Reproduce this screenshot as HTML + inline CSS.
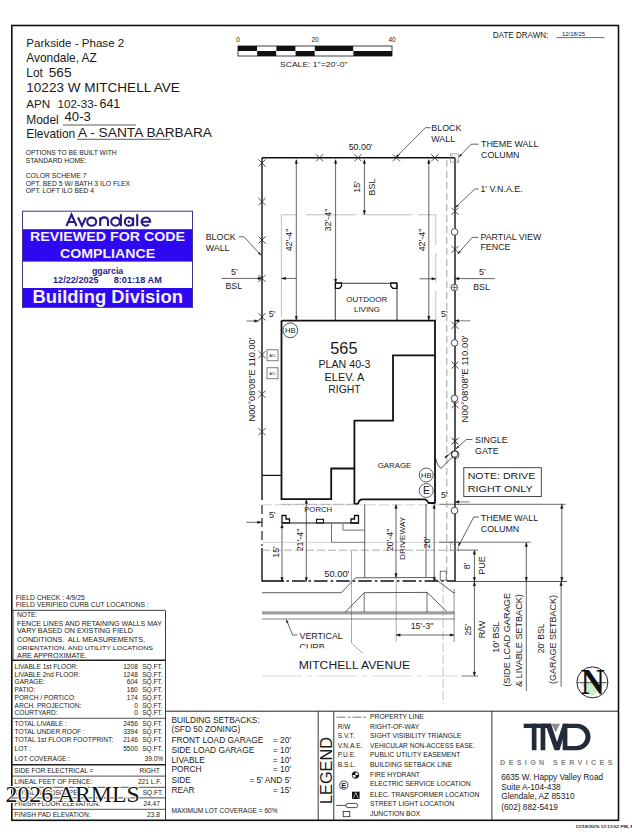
<!DOCTYPE html>
<html><head><meta charset="utf-8"><style>
html,body{margin:0;padding:0;background:#fff;}
body{width:632px;height:832px;overflow:hidden;}
svg{display:block;font-family:"Liberation Sans",sans-serif;}
</style></head><body>
<svg width="632" height="832" viewBox="0 0 632 832">
<rect x="11.8" y="25.5" width="606.7" height="794.8" stroke="#111" stroke-width="1.6" fill="none"/>
<text x="26.3" y="47.2" font-size="11.8" textLength="98" lengthAdjust="spacingAndGlyphs" fill="#1a1a1a">Parkside - Phase 2</text>
<text x="26.3" y="62.3" font-size="11.9" fill="#1a1a1a">Avondale, AZ</text>
<text x="26.3" y="77.1" font-size="11.9" fill="#1a1a1a">Lot</text>
<text x="48.8" y="77.1" font-size="13.6" fill="#1a1a1a">565</text>
<text x="26.3" y="92.2" font-size="13.4" textLength="153.5" lengthAdjust="spacingAndGlyphs" fill="#1a1a1a">10223 W MITCHELL AVE</text>
<text x="26.3" y="107.5" font-size="11.6" fill="#1a1a1a">APN</text>
<text x="57.5" y="107.5" font-size="11.6" fill="#1a1a1a">102-33-</text>
<text x="99.5" y="107.5" font-size="12.4" fill="#1a1a1a">641</text>
<text x="26.3" y="124.1" font-size="11.9" fill="#1a1a1a">Model</text>
<text x="64.5" y="121.3" font-size="13.2" fill="#1a1a1a">40-3</text>
<line x1="63" y1="125" x2="136" y2="125" stroke="#333" stroke-width="0.8"/>
<text x="26.3" y="138.4" font-size="11.9" fill="#1a1a1a">Elevation</text>
<text x="78" y="136.6" font-size="13.2" textLength="134" lengthAdjust="spacingAndGlyphs" fill="#1a1a1a">A - SANTA BARBARA</text>
<line x1="77" y1="139.3" x2="170" y2="139.3" stroke="#333" stroke-width="0.8"/>
<text x="25.7" y="154.9" font-size="6.4" textLength="91" lengthAdjust="spacingAndGlyphs" fill="#1a1a1a">OPTIONS TO BE BUILT WITH</text>
<text x="25.7" y="162.5" font-size="6.4" textLength="60.8" lengthAdjust="spacingAndGlyphs" fill="#1a1a1a">STANDARD HOME:</text>
<text x="25.7" y="177.7" font-size="6.4" textLength="60.8" lengthAdjust="spacingAndGlyphs" fill="#1a1a1a">COLOR SCHEME 7</text>
<text x="25.7" y="185.8" font-size="6.4" textLength="104.4" lengthAdjust="spacingAndGlyphs" fill="#1a1a1a">OPT. BED 5 W/ BATH 3 ILO FLEX</text>
<text x="25.7" y="193.4" font-size="6.4" textLength="68.3" lengthAdjust="spacingAndGlyphs" fill="#1a1a1a">OPT. LOFT ILO BED 4</text>
<rect x="238" y="46" width="19.19999999999999" height="5" fill="#111"/>
<rect x="238" y="51" width="19.19999999999999" height="5" fill="#fff"/>
<rect x="257.2" y="46" width="19.19999999999999" height="5" fill="#fff"/>
<rect x="257.2" y="51" width="19.19999999999999" height="5" fill="#111"/>
<rect x="276.4" y="46" width="19.200000000000045" height="5" fill="#111"/>
<rect x="276.4" y="51" width="19.200000000000045" height="5" fill="#fff"/>
<rect x="295.6" y="46" width="19.19999999999999" height="5" fill="#fff"/>
<rect x="295.6" y="51" width="19.19999999999999" height="5" fill="#111"/>
<rect x="314.8" y="46" width="38.599999999999966" height="5" fill="#111"/>
<rect x="314.8" y="51" width="38.599999999999966" height="5" fill="#fff"/>
<rect x="353.4" y="46" width="38.60000000000002" height="5" fill="#fff"/>
<rect x="353.4" y="51" width="38.60000000000002" height="5" fill="#111"/>
<rect x="238" y="46" width="154" height="10" stroke="#111" stroke-width="0.8" fill="none"/>
<text x="238" y="42" font-size="6.5" text-anchor="middle" fill="#1a1a1a">0</text>
<text x="315" y="42" font-size="6.5" text-anchor="middle" fill="#1a1a1a">20</text>
<text x="392" y="42" font-size="6.5" text-anchor="middle" fill="#1a1a1a">40</text>
<text x="280" y="67" font-size="6.8" textLength="67.5" lengthAdjust="spacingAndGlyphs" fill="#1a1a1a">SCALE:  1"=20'-0"</text>
<text x="492.8" y="38" font-size="8.4" textLength="55.5" lengthAdjust="spacingAndGlyphs" fill="#1a1a1a">DATE DRAWN:</text>
<text x="562" y="36" font-size="5.8" textLength="23" lengthAdjust="spacingAndGlyphs" fill="#1a1a1a">12/18/25</text>
<line x1="556.5" y1="37.6" x2="604.5" y2="37.6" stroke="#333" stroke-width="0.7"/>
<rect x="22.5" y="211.2" width="170" height="96.2" fill="#fff" stroke="#3d3585" stroke-width="1"/>
<rect x="23" y="229.2" width="169" height="32.4" fill="#2e08f0"/>
<rect x="23" y="288" width="169" height="19" fill="#2e08f0"/>
<g fill="none" stroke="#2b1a86" stroke-width="2.1" stroke-linecap="butt">
<path d="M66.4,226 L71.5,214.6 L76.6,226 M68.4,222 L74.6,222"/>
<path d="M78.1,217.5 L81.95,225.8 L85.8,217.5"/>
<ellipse cx="91.7" cy="221.7" rx="4.5" ry="4.1"/>
<path d="M100.2,226.1 V217.4 M100.2,221.3 Q100.6,217.4 104.2,217.4 Q108,217.4 108,221.3 V226.1"/>
<ellipse cx="115.5" cy="221.7" rx="4.3" ry="4.1"/>
<path d="M120.9,214.2 V226.1"/>
<ellipse cx="128.9" cy="221.7" rx="4.1" ry="4.1"/>
<path d="M133.1,217.4 V226.1"/>
<path d="M137.2,214.2 V226.1"/>
<path d="M141.7,221.7 H150.2 A4.3,4.1 0 1 0 148.9,224.6"/>
</g>
<circle cx="128.9" cy="221.7" r="1.3" fill="#2b1a86"/>
<text x="107.6" y="241.2" font-size="13.4" text-anchor="middle" font-weight="bold" textLength="155" lengthAdjust="spacingAndGlyphs" fill="#f4f0ff">REVIEWED FOR CODE</text>
<text x="107.6" y="258.2" font-size="13.4" text-anchor="middle" font-weight="bold" textLength="95" lengthAdjust="spacingAndGlyphs" fill="#f4f0ff">COMPLIANCE</text>
<text x="107.6" y="273.5" font-size="8.8" text-anchor="middle" font-weight="bold" fill="#2b1e8a">ggarcia</text>
<text x="53" y="283.3" font-size="9" font-weight="bold" textLength="45.7" lengthAdjust="spacingAndGlyphs" fill="#2b1e8a">12/22/2025</text>
<text x="113.7" y="283.3" font-size="9" font-weight="bold" textLength="48.1" lengthAdjust="spacingAndGlyphs" fill="#2b1e8a">8:01:18 AM</text>
<text x="107.7" y="303.1" font-size="18.5" text-anchor="middle" font-weight="bold" textLength="150.4" lengthAdjust="spacingAndGlyphs" fill="#f4f0ff">Building Division</text>
<line x1="262" y1="157.8" x2="455" y2="157.8" stroke="#111" stroke-width="1.4"/>
<line x1="262" y1="157.8" x2="262" y2="500" stroke="#111" stroke-width="1.4"/>
<line x1="262" y1="505" x2="262" y2="546" stroke="#222" stroke-width="1.2" stroke-dasharray="9,4"/>
<line x1="262" y1="548" x2="262" y2="581.5" stroke="#111" stroke-width="1.4"/>
<line x1="455" y1="157.8" x2="455" y2="581.5" stroke="#111" stroke-width="1.4"/>
<line x1="446.8" y1="160" x2="446.8" y2="581.3" stroke="#8a8a8a" stroke-width="0.8" stroke-dasharray="7,4"/>
<line x1="262" y1="581" x2="284.1" y2="581" stroke="#111" stroke-width="1.6"/>
<line x1="286.5" y1="581" x2="455" y2="581" stroke="#111" stroke-width="1.6" stroke-dasharray="2.4,3.1,13.5,3.1"/>
<line x1="316.0" y1="154.20000000000002" x2="323.20000000000005" y2="161.4" stroke="#2a2a2a" stroke-width="0.8"/>
<line x1="316.0" y1="161.4" x2="323.20000000000005" y2="154.20000000000002" stroke="#2a2a2a" stroke-width="0.8"/>
<line x1="354.4" y1="154.20000000000002" x2="361.6" y2="161.4" stroke="#2a2a2a" stroke-width="0.8"/>
<line x1="354.4" y1="161.4" x2="361.6" y2="154.20000000000002" stroke="#2a2a2a" stroke-width="0.8"/>
<line x1="392.7" y1="154.20000000000002" x2="399.90000000000003" y2="161.4" stroke="#2a2a2a" stroke-width="0.8"/>
<line x1="392.7" y1="161.4" x2="399.90000000000003" y2="154.20000000000002" stroke="#2a2a2a" stroke-width="0.8"/>
<line x1="431.2" y1="154.20000000000002" x2="438.40000000000003" y2="161.4" stroke="#2a2a2a" stroke-width="0.8"/>
<line x1="431.2" y1="161.4" x2="438.40000000000003" y2="154.20000000000002" stroke="#2a2a2a" stroke-width="0.8"/>
<line x1="258.4" y1="159.4" x2="265.6" y2="166.6" stroke="#2a2a2a" stroke-width="0.8"/>
<line x1="258.4" y1="166.6" x2="265.6" y2="159.4" stroke="#2a2a2a" stroke-width="0.8"/>
<line x1="258.4" y1="198.0" x2="265.6" y2="205.2" stroke="#2a2a2a" stroke-width="0.8"/>
<line x1="258.4" y1="205.2" x2="265.6" y2="198.0" stroke="#2a2a2a" stroke-width="0.8"/>
<line x1="258.4" y1="236.4" x2="265.6" y2="243.6" stroke="#2a2a2a" stroke-width="0.8"/>
<line x1="258.4" y1="243.6" x2="265.6" y2="236.4" stroke="#2a2a2a" stroke-width="0.8"/>
<line x1="258.4" y1="274.79999999999995" x2="265.6" y2="282.0" stroke="#2a2a2a" stroke-width="0.8"/>
<line x1="258.4" y1="282.0" x2="265.6" y2="274.79999999999995" stroke="#2a2a2a" stroke-width="0.8"/>
<line x1="258.4" y1="313.2" x2="265.6" y2="320.40000000000003" stroke="#2a2a2a" stroke-width="0.8"/>
<line x1="258.4" y1="320.40000000000003" x2="265.6" y2="313.2" stroke="#2a2a2a" stroke-width="0.8"/>
<line x1="258.4" y1="351.0" x2="265.6" y2="358.20000000000005" stroke="#2a2a2a" stroke-width="0.8"/>
<line x1="258.4" y1="358.20000000000005" x2="265.6" y2="351.0" stroke="#2a2a2a" stroke-width="0.8"/>
<line x1="258.4" y1="390.59999999999997" x2="265.6" y2="397.8" stroke="#2a2a2a" stroke-width="0.8"/>
<line x1="258.4" y1="397.8" x2="265.6" y2="390.59999999999997" stroke="#2a2a2a" stroke-width="0.8"/>
<line x1="258.4" y1="428.09999999999997" x2="265.6" y2="435.3" stroke="#2a2a2a" stroke-width="0.8"/>
<line x1="258.4" y1="435.3" x2="265.6" y2="428.09999999999997" stroke="#2a2a2a" stroke-width="0.8"/>
<line x1="451.4" y1="207.70000000000002" x2="458.6" y2="214.9" stroke="#2a2a2a" stroke-width="0.8"/>
<line x1="451.4" y1="214.9" x2="458.6" y2="207.70000000000002" stroke="#2a2a2a" stroke-width="0.8"/>
<line x1="451.4" y1="245.8" x2="458.6" y2="253.0" stroke="#2a2a2a" stroke-width="0.8"/>
<line x1="451.4" y1="253.0" x2="458.6" y2="245.8" stroke="#2a2a2a" stroke-width="0.8"/>
<line x1="451.4" y1="321.7" x2="458.6" y2="328.90000000000003" stroke="#2a2a2a" stroke-width="0.8"/>
<line x1="451.4" y1="328.90000000000003" x2="458.6" y2="321.7" stroke="#2a2a2a" stroke-width="0.8"/>
<line x1="451.4" y1="361.5" x2="458.6" y2="368.70000000000005" stroke="#2a2a2a" stroke-width="0.8"/>
<line x1="451.4" y1="368.70000000000005" x2="458.6" y2="361.5" stroke="#2a2a2a" stroke-width="0.8"/>
<line x1="451.4" y1="401.09999999999997" x2="458.6" y2="408.3" stroke="#2a2a2a" stroke-width="0.8"/>
<line x1="451.4" y1="408.3" x2="458.6" y2="401.09999999999997" stroke="#2a2a2a" stroke-width="0.8"/>
<line x1="451.4" y1="437.59999999999997" x2="458.6" y2="444.8" stroke="#2a2a2a" stroke-width="0.8"/>
<line x1="451.4" y1="444.8" x2="458.6" y2="437.59999999999997" stroke="#2a2a2a" stroke-width="0.8"/>
<circle cx="454.5" cy="231.9" r="3.3" stroke="#222" stroke-width="0.8" fill="#fff"/>
<circle cx="454.5" cy="342.9" r="3.3" stroke="#222" stroke-width="0.8" fill="#fff"/>
<circle cx="454.5" cy="398.4" r="3.3" stroke="#222" stroke-width="0.8" fill="#fff"/>
<circle cx="454.5" cy="453.9" r="3.3" stroke="#222" stroke-width="0.8" fill="#fff"/>
<circle cx="454.5" cy="510.6" r="3.3" stroke="#222" stroke-width="0.8" fill="#fff"/>
<circle cx="454.3" cy="287.4" r="3.3" stroke="#222" stroke-width="0.8" fill="#fff"/>
<line x1="451.5" y1="287.4" x2="457" y2="287.4" stroke="#222" stroke-width="0.6"/>
<line x1="454.3" y1="284.7" x2="454.3" y2="290" stroke="#222" stroke-width="0.6"/>
<rect x="450.4" y="153.9" width="8.3" height="8.2" stroke="#8a8a8a" stroke-width="0.7" fill="none"/>
<line x1="450.4" y1="153.9" x2="458.7" y2="162.1" stroke="#8a8a8a" stroke-width="0.5"/>
<rect x="450.7" y="542.2" width="8" height="8" stroke="#8a8a8a" stroke-width="0.7" fill="none"/>
<line x1="450.7" y1="542.2" x2="458.7" y2="550.2" stroke="#8a8a8a" stroke-width="0.5"/>
<line x1="281.6" y1="214.8" x2="296" y2="214.8" stroke="#b0b0b0" stroke-width="0.8"/>
<line x1="306" y1="214.8" x2="435.8" y2="214.8" stroke="#b0b0b0" stroke-width="0.8" stroke-dasharray="50,6"/>
<line x1="435.8" y1="214.8" x2="435.8" y2="320" stroke="#b0b0b0" stroke-width="0.8" stroke-dasharray="30,8"/>
<line x1="281.4" y1="214.8" x2="281.4" y2="317" stroke="#b0b0b0" stroke-width="0.8"/>
<line x1="296.3" y1="160" x2="296.3" y2="320" stroke="#222" stroke-width="0.7"/>
<polygon points="296.3,159.5 295.0,163.5 297.6,163.5" stroke="#111" stroke-width="0.3" fill="#111"/>
<polygon points="296.3,320.3 295.0,316.3 297.6,316.3" stroke="#111" stroke-width="0.3" fill="#111"/>
<line x1="335.6" y1="160" x2="335.6" y2="283" stroke="#222" stroke-width="0.7"/>
<polygon points="335.6,159.5 334.3,163.5 336.90000000000003,163.5" stroke="#111" stroke-width="0.3" fill="#111"/>
<polygon points="335.6,283 334.3,279 336.90000000000003,279" stroke="#111" stroke-width="0.3" fill="#111"/>
<line x1="364.4" y1="160" x2="364.4" y2="214.5" stroke="#222" stroke-width="0.7"/>
<polygon points="364.4,159.5 363.09999999999997,163.5 365.7,163.5" stroke="#111" stroke-width="0.3" fill="#111"/>
<polygon points="364.4,214.5 363.09999999999997,210.5 365.7,210.5" stroke="#111" stroke-width="0.3" fill="#111"/>
<line x1="428.8" y1="160" x2="428.8" y2="320" stroke="#222" stroke-width="0.7"/>
<polygon points="428.8,159.5 427.5,163.5 430.1,163.5" stroke="#111" stroke-width="0.3" fill="#111"/>
<polygon points="428.8,320.3 427.5,316.3 430.1,316.3" stroke="#111" stroke-width="0.3" fill="#111"/>
<text x="291.5" y="240" font-size="8.9" text-anchor="middle" transform="rotate(-90 291.5 240)" fill="#1a1a1a">42'-4"</text>
<text x="331" y="220" font-size="8.9" text-anchor="middle" transform="rotate(-90 331 220)" fill="#1a1a1a">32'-4"</text>
<text x="360" y="187" font-size="8.9" text-anchor="middle" transform="rotate(-90 360 187)" fill="#1a1a1a">15'</text>
<text x="375" y="187" font-size="8.9" text-anchor="middle" transform="rotate(-90 375 187)" fill="#1a1a1a">BSL</text>
<text x="424.5" y="240" font-size="8.9" text-anchor="middle" transform="rotate(-90 424.5 240)" fill="#1a1a1a">42'-4"</text>
<text x="360.6" y="150.2" font-size="8.9" text-anchor="middle" fill="#1a1a1a">50.00'</text>
<polyline points="395.6,157.6 425.4,127.7 430.5,127.7" stroke="#222" stroke-width="0.7" fill="none"/>
<polygon points="395.6,157.6 397.22148714475026,154.69814207111895 398.4964095425656,155.96880051442653" stroke="#222" stroke-width="0.3" fill="#222"/>
<text x="431.3" y="130.8" font-size="8.9" fill="#1a1a1a">BLOCK</text>
<text x="431.3" y="141.6" font-size="8.9" fill="#1a1a1a">WALL</text>
<polyline points="459,157 471,144.2 478.5,144.2" stroke="#222" stroke-width="0.7" fill="none"/>
<polygon points="459,157 460.53202812869415,154.04993393075853 461.8451950961463,155.28102796274493" stroke="#222" stroke-width="0.3" fill="#222"/>
<text x="481" y="147.2" font-size="8.9" fill="#1a1a1a">THEME WALL</text>
<text x="481" y="158" font-size="8.9" fill="#1a1a1a">COLUMN</text>
<polyline points="455.5,207.5 474.8,189 478.5,189" stroke="#222" stroke-width="0.7" fill="none"/>
<polygon points="455.5,207.5 457.1873251630593,204.63592357048438 458.4329010426841,205.9353621908497" stroke="#222" stroke-width="0.3" fill="#222"/>
<text x="480.4" y="192" font-size="8.9" fill="#1a1a1a">1' V.N.A.E.</text>
<polyline points="457.8,253.9 472.2,237.4 478.3,237.4" stroke="#222" stroke-width="0.7" fill="none"/>
<polygon points="457.8,253.9 459.2260273972603,250.89726027397262 460.582191780822,252.08082191780824" stroke="#222" stroke-width="0.3" fill="#222"/>
<text x="480.4" y="240.1" font-size="8.9" fill="#1a1a1a">PARTIAL VIEW</text>
<text x="480.4" y="250.4" font-size="8.9" fill="#1a1a1a">FENCE</text>
<polyline points="261,255.2 244,236.8 238.6,236.8" stroke="#222" stroke-width="0.7" fill="none"/>
<polygon points="261,255.2 258.1673952462678,253.46035914363517 259.4894903624404,252.23885822108434" stroke="#222" stroke-width="0.3" fill="#222"/>
<text x="205.7" y="239.9" font-size="8.9" fill="#1a1a1a">BLOCK</text>
<text x="205.7" y="251" font-size="8.9" fill="#1a1a1a">WALL</text>
<line x1="221.6" y1="278.4" x2="262" y2="278.4" stroke="#222" stroke-width="0.7"/>
<polygon points="262,278.4 258,277.09999999999997 258,279.7" stroke="#111" stroke-width="0.3" fill="#111"/>
<text x="234.3" y="274.6" font-size="8.9" text-anchor="middle" fill="#1a1a1a">5'</text>
<text x="225.4" y="289" font-size="8.9" fill="#1a1a1a">BSL</text>
<line x1="281.6" y1="278.4" x2="296.3" y2="278.4" stroke="#222" stroke-width="0.7"/>
<polygon points="281.6,278.4 285.6,277.09999999999997 285.6,279.7" stroke="#111" stroke-width="0.3" fill="#111"/>
<line x1="455" y1="278.6" x2="494.8" y2="278.6" stroke="#222" stroke-width="0.7"/>
<polygon points="455,278.6 459,277.3 459,279.90000000000003" stroke="#111" stroke-width="0.3" fill="#111"/>
<text x="482.4" y="274.5" font-size="8.9" text-anchor="middle" fill="#1a1a1a">5'</text>
<text x="473.2" y="289.5" font-size="8.9" fill="#1a1a1a">BSL</text>
<line x1="419.5" y1="278.8" x2="435.8" y2="278.8" stroke="#222" stroke-width="0.7"/>
<polygon points="435.8,278.8 431.8,277.5 431.8,280.1" stroke="#111" stroke-width="0.3" fill="#111"/>
<line x1="246.6" y1="321" x2="257" y2="321" stroke="#222" stroke-width="0.7"/>
<polygon points="258.5,321 254.5,319.7 254.5,322.3" stroke="#111" stroke-width="0.3" fill="#111"/>
<line x1="258.5" y1="321" x2="262" y2="318" stroke="#222" stroke-width="0.6"/>
<text x="268.7" y="316.6" font-size="8.8" fill="#1a1a1a">5'</text>
<text x="441" y="316.7" font-size="8.9" fill="#1a1a1a">5'</text>
<line x1="455" y1="320.8" x2="470.3" y2="320.8" stroke="#222" stroke-width="0.6"/>
<polygon points="455,320.8 459,319.5 459,322.1" stroke="#111" stroke-width="0.3" fill="#111"/>
<polyline points="335.3,320.6 335.3,283.3 397,283.3 397,320.6" stroke="#222" stroke-width="0.9" fill="none"/>
<polygon points="335.4,282.8 341.5,282.8 341.5,286.3 339.5,288.3 335.4,288.3" stroke="#111" stroke-width="1.3" fill="none"/>
<polygon points="396.9,282.8 390.8,282.8 390.8,286.3 392.8,288.3 396.9,288.3" stroke="#111" stroke-width="1.3" fill="none"/>
<text x="366.8" y="302" font-size="7.6" text-anchor="middle" textLength="41" lengthAdjust="spacingAndGlyphs" fill="#1a1a1a">OUTDOOR</text>
<text x="367" y="311.7" font-size="7.6" text-anchor="middle" textLength="26" lengthAdjust="spacingAndGlyphs" fill="#1a1a1a">LIVING</text>
<polyline points="281.5,320.6 435,320.6 435,503.4" stroke="#111" stroke-width="1.8" fill="none"/>
<polyline points="281.5,320.6 281.5,499.2 331.2,499.2 331.2,468.5 354.4,468.5 354.4,420.7 393,420.7 393,355.4 435,355.4" stroke="#111" stroke-width="1.8" fill="none"/>
<polyline points="354.4,468.5 354.4,504 358,504" stroke="#111" stroke-width="1.8" fill="none"/>
<path d="M358,504 Q359,499.3 362.6,499.3 L424.5,499.3 Q427,499.5 428.5,503 L435,503" stroke="#111" stroke-width="1.8" fill="none"/>
<line x1="262" y1="475.4" x2="281.5" y2="475.4" stroke="#111" stroke-width="1.2"/>
<text x="343.9" y="354.2" font-size="16.3" text-anchor="middle" textLength="27.2" lengthAdjust="spacingAndGlyphs" fill="#1a1a1a">565</text>
<text x="344.5" y="367.5" font-size="10.4" text-anchor="middle" textLength="52" lengthAdjust="spacingAndGlyphs" fill="#1a1a1a">PLAN 40-3</text>
<text x="344.4" y="380.6" font-size="10.9" text-anchor="middle" textLength="39.6" lengthAdjust="spacingAndGlyphs" fill="#1a1a1a">ELEV. A</text>
<text x="344.5" y="393.2" font-size="10.6" text-anchor="middle" textLength="32.4" lengthAdjust="spacingAndGlyphs" fill="#1a1a1a">RIGHT</text>
<text x="394.5" y="467.5" font-size="7.9" text-anchor="middle" textLength="33.6" lengthAdjust="spacingAndGlyphs" fill="#1a1a1a">GARAGE</text>
<circle cx="290.3" cy="330.3" r="7.4" stroke="#222" stroke-width="0.8" fill="none"/>
<text x="290.3" y="333" font-size="7.6" text-anchor="middle" fill="#1a1a1a">HB</text>
<circle cx="426.2" cy="475" r="7" stroke="#333" stroke-width="0.8" fill="none"/>
<text x="426.2" y="477.7" font-size="7.6" text-anchor="middle" fill="#1a1a1a">HB</text>
<circle cx="426.2" cy="490.5" r="7" stroke="#333" stroke-width="0.8" fill="none"/>
<text x="426.4" y="494.2" font-size="10.5" text-anchor="middle" fill="#1a1a1a">E</text>
<rect x="267" y="349.8" width="11" height="11" stroke="#444" stroke-width="0.7" fill="none"/>
<text x="272.5" y="357.3" font-size="4" text-anchor="middle" fill="#1a1a1a">A/C</text>
<rect x="267" y="367.8" width="11" height="11" stroke="#444" stroke-width="0.7" fill="none"/>
<text x="272.5" y="375.3" font-size="4" text-anchor="middle" fill="#1a1a1a">A/C</text>
<text x="255" y="379.5" font-size="9" text-anchor="middle" textLength="84" lengthAdjust="spacingAndGlyphs" transform="rotate(-90 255 379.5)" fill="#1a1a1a">N00°08'08"E 110.00'</text>
<text x="468" y="379" font-size="9" text-anchor="middle" textLength="87" lengthAdjust="spacingAndGlyphs" transform="rotate(-90 468 379)" fill="#1a1a1a">N00°08'08"E 110.00'</text>
<path d="M435.4,457.2 Q437.5,467 441.1,468.3 L452.5,457" stroke="#222" stroke-width="0.8" fill="none"/>
<line x1="444.9" y1="458.2" x2="452" y2="451.8" stroke="#222" stroke-width="0.8"/>
<line x1="445" y1="457.5" x2="448" y2="455" stroke="#222" stroke-width="1.6"/>
<circle cx="455.3" cy="454.7" r="3.8" stroke="#222" stroke-width="0.8" fill="none"/>
<polyline points="456,448.8 466.3,439.5 472.4,439.5" stroke="#222" stroke-width="0.7" fill="none"/>
<polygon points="456,448.8 457.77195601620843,445.98749722193514 458.97824083570134,447.3234900865347" stroke="#222" stroke-width="0.3" fill="#222"/>
<line x1="452.5" y1="438.7" x2="457.5" y2="443.7" stroke="#2a2a2a" stroke-width="0.8"/>
<line x1="452.5" y1="443.7" x2="457.5" y2="438.7" stroke="#2a2a2a" stroke-width="0.8"/>
<text x="475.1" y="443" font-size="8.9" fill="#1a1a1a">SINGLE</text>
<text x="475.1" y="453.9" font-size="8.9" fill="#1a1a1a">GATE</text>
<rect x="463.8" y="467.7" width="77.5" height="28.8" stroke="#333" stroke-width="0.9" fill="none"/>
<text x="467.7" y="478.6" font-size="9.8" textLength="67.5" lengthAdjust="spacingAndGlyphs" fill="#1a1a1a">NOTE: DRIVE</text>
<text x="467.7" y="492" font-size="9.8" textLength="65" lengthAdjust="spacingAndGlyphs" fill="#1a1a1a">RIGHT ONLY</text>
<text x="441" y="498.2" font-size="8.9" fill="#1a1a1a">5'</text>
<line x1="439.5" y1="504.3" x2="565.6" y2="504.3" stroke="#222" stroke-width="0.7"/>
<line x1="455" y1="501.9" x2="469.4" y2="501.9" stroke="#222" stroke-width="0.6"/>
<polygon points="455,501.9 459,500.59999999999997 459,503.2" stroke="#111" stroke-width="0.3" fill="#111"/>
<line x1="281.5" y1="504.3" x2="356" y2="504.3" stroke="#8a8a8a" stroke-width="0.7" stroke-dasharray="10,3"/>
<line x1="262" y1="504.8" x2="455" y2="504.8" stroke="#b0b0b0" stroke-width="0.6" stroke-dasharray="10,3"/>
<line x1="281.5" y1="523" x2="359" y2="523" stroke="#111" stroke-width="1.0"/>
<text x="318.2" y="511.8" font-size="7.9" text-anchor="middle" textLength="28" lengthAdjust="spacingAndGlyphs" fill="#1a1a1a">PORCH</text>
<polygon points="282,515.5 286,515.5 286,519 289.5,519 289.5,523 282,523" stroke="#111" stroke-width="1.3" fill="none"/>
<rect x="316.5" y="519.3" width="7" height="3.7" stroke="#111" stroke-width="1.1" fill="none"/>
<polygon points="358.5,515.5 354.5,515.5 354.5,519 351,519 351,523 358.5,523" stroke="#111" stroke-width="1.3" fill="none"/>
<polyline points="343,524 343,530.1 364.7,530.1" stroke="#333" stroke-width="0.7" fill="none"/>
<polyline points="331.5,523.5 331.5,542.4 364.7,542.4" stroke="#333" stroke-width="0.7" fill="none"/>
<line x1="246.3" y1="522.3" x2="262" y2="522.3" stroke="#222" stroke-width="0.7"/>
<polygon points="261.5,522.3 257.5,521.0 257.5,523.5999999999999" stroke="#111" stroke-width="0.3" fill="#111"/>
<text x="268.9" y="517.8" font-size="8.9" fill="#1a1a1a">5'</text>
<line x1="282" y1="525" x2="282" y2="581.5" stroke="#222" stroke-width="0.7"/>
<polygon points="282,524 280.7,528 283.3,528" stroke="#111" stroke-width="0.3" fill="#111"/>
<polygon points="282,581.5 280.7,577.5 283.3,577.5" stroke="#111" stroke-width="0.3" fill="#111"/>
<text x="279" y="552" font-size="8.9" text-anchor="middle" transform="rotate(-90 279 552)" fill="#1a1a1a">15'</text>
<line x1="306.3" y1="499.5" x2="306.3" y2="581.5" stroke="#222" stroke-width="0.7"/>
<polygon points="306.3,499.5 305.0,503.5 307.6,503.5" stroke="#111" stroke-width="0.3" fill="#111"/>
<polygon points="306.3,581.5 305.0,577.5 307.6,577.5" stroke="#111" stroke-width="0.3" fill="#111"/>
<text x="302.5" y="540" font-size="8.9" text-anchor="middle" transform="rotate(-90 302.5 540)" fill="#1a1a1a">21'-4"</text>
<line x1="262" y1="542.3" x2="455" y2="542.3" stroke="#b0b0b0" stroke-width="0.6"/>
<line x1="262" y1="550.2" x2="455" y2="550.2" stroke="#8a8a8a" stroke-width="0.7" stroke-dasharray="8,3"/>
<line x1="439" y1="542.2" x2="530.8" y2="542.2" stroke="#333" stroke-width="0.7"/>
<line x1="364.7" y1="504" x2="364.7" y2="577.4" stroke="#333" stroke-width="0.8"/>
<line x1="426" y1="504" x2="426" y2="577.4" stroke="#333" stroke-width="0.8"/>
<line x1="396" y1="505" x2="396" y2="577" stroke="#222" stroke-width="0.7"/>
<polygon points="396,504.5 394.7,508.5 397.3,508.5" stroke="#111" stroke-width="0.3" fill="#111"/>
<polygon points="396,577.4 394.7,573.4 397.3,573.4" stroke="#111" stroke-width="0.3" fill="#111"/>
<text x="393" y="540" font-size="8.9" text-anchor="middle" transform="rotate(-90 393 540)" fill="#1a1a1a">20'-4"</text>
<text x="404.8" y="538.3" font-size="8" text-anchor="middle" textLength="43.3" lengthAdjust="spacingAndGlyphs" transform="rotate(-90 404.8 538.3)" fill="#1a1a1a">DRIVEWAY</text>
<line x1="434.2" y1="505" x2="434.2" y2="581" stroke="#222" stroke-width="0.7"/>
<polygon points="434.2,504.5 432.9,508.5 435.5,508.5" stroke="#111" stroke-width="0.3" fill="#111"/>
<polygon points="434.2,581.2 432.9,577.2 435.5,577.2" stroke="#111" stroke-width="0.3" fill="#111"/>
<text x="430.5" y="542.4" font-size="8.9" text-anchor="middle" transform="rotate(-90 430.5 542.4)" fill="#1a1a1a">20'</text>
<rect x="440.2" y="571.2" width="6" height="9" stroke="#444" stroke-width="0.7" fill="none"/>
<text x="336.8" y="576.7" font-size="9.3" text-anchor="middle" textLength="25.1" lengthAdjust="spacingAndGlyphs" fill="#1a1a1a">50.00'</text>
<line x1="561.8" y1="504.3" x2="561.8" y2="581.5" stroke="#222" stroke-width="0.7"/>
<polygon points="561.8,504.5 560.5,508.5 563.0999999999999,508.5" stroke="#111" stroke-width="0.3" fill="#111"/>
<polygon points="561.8,581.3 560.5,577.3 563.0999999999999,577.3" stroke="#111" stroke-width="0.3" fill="#111"/>
<line x1="526.3" y1="543" x2="526.3" y2="691" stroke="#222" stroke-width="0.7"/>
<polygon points="526.3,542.5 525.0,546.5 527.5999999999999,546.5" stroke="#111" stroke-width="0.3" fill="#111"/>
<polygon points="526.3,581.3 525.0,577.3 527.5999999999999,577.3" stroke="#111" stroke-width="0.3" fill="#111"/>
<line x1="474.4" y1="550.5" x2="474.4" y2="676" stroke="#222" stroke-width="0.7"/>
<polygon points="474.4,550.3 473.09999999999997,554.3 475.7,554.3" stroke="#111" stroke-width="0.3" fill="#111"/>
<line x1="457.5" y1="550.1" x2="478.1" y2="550.1" stroke="#222" stroke-width="0.7"/>
<polygon points="474.4,581.3 473.09999999999997,577.3 475.7,577.3" stroke="#111" stroke-width="0.3" fill="#111"/>
<polygon points="474.4,581.8 473.09999999999997,585.8 475.7,585.8" stroke="#111" stroke-width="0.3" fill="#111"/>
<polygon points="474.4,676 473.09999999999997,672 475.7,672" stroke="#111" stroke-width="0.3" fill="#111"/>
<line x1="561.1" y1="581.5" x2="561.1" y2="686.8" stroke="#222" stroke-width="0.7"/>
<polygon points="561.1,581.8 559.8000000000001,585.8 562.4,585.8" stroke="#111" stroke-width="0.3" fill="#111"/>
<line x1="461.4" y1="676" x2="478" y2="676" stroke="#222" stroke-width="0.6"/>
<line x1="455" y1="581.5" x2="567" y2="581.5" stroke="#222" stroke-width="0.8"/>
<text x="470.1" y="565.8" font-size="8.9" text-anchor="middle" transform="rotate(-90 470.1 565.8)" fill="#1a1a1a">8'</text>
<text x="484.8" y="565.4" font-size="8.9" text-anchor="middle" textLength="18.7" lengthAdjust="spacingAndGlyphs" transform="rotate(-90 484.8 565.4)" fill="#1a1a1a">PUE</text>
<text x="471.2" y="629.8" font-size="8.8" text-anchor="middle" textLength="11.4" lengthAdjust="spacingAndGlyphs" transform="rotate(-90 471.2 629.8)" fill="#1a1a1a">25'</text>
<text x="485.2" y="629.5" font-size="8.8" text-anchor="middle" textLength="17.7" lengthAdjust="spacingAndGlyphs" transform="rotate(-90 485.2 629.5)" fill="#1a1a1a">R/W</text>
<text x="498.9" y="637" font-size="9.2" text-anchor="middle" textLength="31.3" lengthAdjust="spacingAndGlyphs" transform="rotate(-90 498.9 637)" fill="#1a1a1a">10' BSL</text>
<text x="510.3" y="639.8" font-size="9.2" text-anchor="middle" textLength="94" lengthAdjust="spacingAndGlyphs" transform="rotate(-90 510.3 639.8)" fill="#1a1a1a">(SIDE LCAD GARAGE</text>
<text x="521.7" y="640.5" font-size="9.2" text-anchor="middle" textLength="92.6" lengthAdjust="spacingAndGlyphs" transform="rotate(-90 521.7 640.5)" fill="#1a1a1a">&amp; LIVABLE SETBACK)</text>
<text x="544.4" y="638.4" font-size="9.2" text-anchor="middle" textLength="29.7" lengthAdjust="spacingAndGlyphs" transform="rotate(-90 544.4 638.4)" fill="#1a1a1a">20' BSL</text>
<text x="555.8" y="639.5" font-size="9.2" text-anchor="middle" textLength="89" lengthAdjust="spacingAndGlyphs" transform="rotate(-90 555.8 639.5)" fill="#1a1a1a">(GARAGE SETBACK)</text>
<polyline points="458.5,546 473.8,517 479,517" stroke="#222" stroke-width="0.7" fill="none"/>
<polygon points="458.5,546 459.19719427929465,542.7497815247405 460.7892127123298,543.5897084911348" stroke="#222" stroke-width="0.3" fill="#222"/>
<text x="480.8" y="520.7" font-size="8.9" fill="#1a1a1a">THEME WALL</text>
<text x="480.8" y="532.1" font-size="8.9" fill="#1a1a1a">COLUMN</text>
<polyline points="262,592.7 341.4,592.7 355.6,577.8 433.3,577.5 453,592.4 455,592.4" stroke="#333" stroke-width="0.8" fill="none"/>
<line x1="262" y1="612.9" x2="454.5" y2="612.9" stroke="#9f9f9f" stroke-width="3.2"/>
<line x1="262" y1="619" x2="455" y2="619" stroke="#333" stroke-width="0.6"/>
<polyline points="345.2,612.2 364.2,592.7 427,592.4 446.7,611.4" stroke="#333" stroke-width="0.8" fill="none"/>
<line x1="364.2" y1="592.7" x2="364.2" y2="612" stroke="#333" stroke-width="0.7"/>
<line x1="427" y1="592.4" x2="427" y2="612" stroke="#333" stroke-width="0.7"/>
<polyline points="351.5,551 351.5,643 362.9,653.5" stroke="#555" stroke-width="0.5" fill="none"/>
<line x1="396.2" y1="577" x2="396.2" y2="642" stroke="#555" stroke-width="0.5"/>
<line x1="454.1" y1="589" x2="454.1" y2="642" stroke="#444" stroke-width="0.6"/>
<line x1="443.1" y1="583" x2="443.1" y2="704" stroke="#999" stroke-width="0.6" stroke-dasharray="9,3"/>
<line x1="396.2" y1="635" x2="454.1" y2="635" stroke="#222" stroke-width="0.7"/>
<polygon points="396.2,635 400.2,633.7 400.2,636.3" stroke="#111" stroke-width="0.3" fill="#111"/>
<polygon points="454.1,635 450.1,633.7 450.1,636.3" stroke="#111" stroke-width="0.3" fill="#111"/>
<text x="422" y="629.1" font-size="8.9" text-anchor="middle" fill="#1a1a1a">15'-3"</text>
<polyline points="286.3,619.7 292.6,635 297.5,635" stroke="#222" stroke-width="0.7" fill="none"/>
<polygon points="286.3,619.7 288.350609665441,622.3162950903902 286.6861890881865,623.001644739848" stroke="#222" stroke-width="0.3" fill="#222"/>
<text x="299.5" y="638.5" font-size="8.9" fill="#1a1a1a">VERTICAL</text>
<clipPath id="cc"><rect x="290" y="640" width="60" height="8.3"/></clipPath>
<text x="299.5" y="649.6" font-size="8.9" fill="#1a1a1a" clip-path="url(#cc)">CURB</text>
<text x="298.7" y="669.4" font-size="11.7" textLength="111.4" lengthAdjust="spacingAndGlyphs" fill="#1a1a1a">MITCHELL AVENUE</text>
<line x1="262" y1="676.1" x2="459" y2="676.1" stroke="#c4c4c4" stroke-width="0.6" stroke-dasharray="40,5,5,5"/>
<circle cx="592.4" cy="682.4" r="15.5" stroke="#222" stroke-width="1.0" fill="none"/>
<polygon points="580,683 606,683 592,697" fill="#cdeec6"/>
<line x1="577" y1="682.6" x2="608" y2="682.6" stroke="#333" stroke-width="0.8"/>
<text x="592.8" y="694.3" font-size="36" text-anchor="middle" font-weight="bold" textLength="24" lengthAdjust="spacingAndGlyphs" font-family="Liberation Serif" fill="#111">N</text>
<text x="15.7" y="599.5" font-size="6.4" textLength="69" lengthAdjust="spacingAndGlyphs" fill="#1a1a1a">FIELD CHECK : 4/9/25</text>
<text x="15.7" y="607.2" font-size="6.4" textLength="133" lengthAdjust="spacingAndGlyphs" fill="#1a1a1a">FIELD VERIFIED CURB CUT LOCATIONS :</text>
<line x1="12" y1="610.3" x2="165.5" y2="610.3" stroke="#222" stroke-width="0.9"/>
<line x1="13.2" y1="610.3" x2="13.2" y2="660.3" stroke="#333" stroke-width="0.6"/>
<line x1="12" y1="660.3" x2="165.5" y2="660.3" stroke="#222" stroke-width="1.4"/>
<text x="17" y="617" font-size="6.7" fill="#1a1a1a">NOTE:</text>
<text x="17.1" y="625.7" font-size="7.2" textLength="144.8" lengthAdjust="spacingAndGlyphs" fill="#1a1a1a">FENCE LINES AND RETAINING WALLS MAY</text>
<text x="17.1" y="633.2" font-size="7.2" fill="#1a1a1a">VARY BASED ON EXISTING FIELD</text>
<text x="17.1" y="641.7" font-size="7.2" fill="#1a1a1a" xml:space="preserve">CONDITIONS.  ALL MEASUREMENTS,</text>
<text x="17.1" y="649.5" font-size="5.6" textLength="136" lengthAdjust="spacingAndGlyphs" fill="#1a1a1a">ORIENTATION, AND UTILITY LOCATIONS</text>
<text x="17.1" y="657.6" font-size="7.2" fill="#1a1a1a">ARE APPROXIMATE.</text>
<text x="14.6" y="668.9" font-size="6.6" fill="#1a1a1a">LIVABLE 1st FLOOR:</text>
<text x="137.8" y="668.9" font-size="6.6" text-anchor="end" fill="#1a1a1a">1208</text>
<text x="142.2" y="668.9" font-size="6.6" fill="#1a1a1a">SQ.FT.</text>
<text x="14.6" y="676.5" font-size="6.6" fill="#1a1a1a">LIVABLE 2nd FLOOR:</text>
<text x="137.8" y="676.5" font-size="6.6" text-anchor="end" fill="#1a1a1a">1248</text>
<text x="142.2" y="676.5" font-size="6.6" fill="#1a1a1a">SQ.FT.</text>
<text x="14.6" y="684.1" font-size="6.6" fill="#1a1a1a">GARAGE:</text>
<text x="137.8" y="684.1" font-size="6.6" text-anchor="end" fill="#1a1a1a">604</text>
<text x="142.2" y="684.1" font-size="6.6" fill="#1a1a1a">SQ.FT.</text>
<text x="14.6" y="692" font-size="6.6" fill="#1a1a1a">PATIO:</text>
<text x="137.8" y="692" font-size="6.6" text-anchor="end" fill="#1a1a1a">160</text>
<text x="142.2" y="692" font-size="6.6" fill="#1a1a1a">SQ.FT.</text>
<text x="14.6" y="699.8" font-size="6.6" fill="#1a1a1a">PORCH / PORTICO:</text>
<text x="137.8" y="699.8" font-size="6.6" text-anchor="end" fill="#1a1a1a">174</text>
<text x="142.2" y="699.8" font-size="6.6" fill="#1a1a1a">SQ.FT.</text>
<text x="14.6" y="707.7" font-size="6.6" fill="#1a1a1a">ARCH. PROJECTION:</text>
<text x="137.8" y="707.7" font-size="6.6" text-anchor="end" fill="#1a1a1a">0</text>
<text x="142.2" y="707.7" font-size="6.6" fill="#1a1a1a">SQ.FT.</text>
<text x="14.6" y="715.3" font-size="6.6" fill="#1a1a1a">COURTYARD:</text>
<text x="137.8" y="715.3" font-size="6.6" text-anchor="end" fill="#1a1a1a">0</text>
<text x="142.2" y="715.3" font-size="6.6" fill="#1a1a1a">SQ.FT.</text>
<line x1="12" y1="718.3" x2="166" y2="718.3" stroke="#222" stroke-width="0.8"/>
<text x="14.6" y="725.9" font-size="6.6" fill="#1a1a1a">TOTAL LIVABLE :</text>
<text x="137.8" y="725.9" font-size="6.6" text-anchor="end" fill="#1a1a1a">2456</text>
<text x="142.2" y="725.9" font-size="6.6" fill="#1a1a1a">SQ.FT.</text>
<text x="14.6" y="733.5" font-size="6.6" fill="#1a1a1a">TOTAL UNDER ROOF :</text>
<text x="137.8" y="733.5" font-size="6.6" text-anchor="end" fill="#1a1a1a">3394</text>
<text x="142.2" y="733.5" font-size="6.6" fill="#1a1a1a">SQ.FT.</text>
<text x="14.6" y="742.3" font-size="6.6" textLength="98.7" lengthAdjust="spacingAndGlyphs" fill="#1a1a1a">TOTAL 1st FLOOR FOOTPRINT:</text>
<text x="137.8" y="742.3" font-size="6.6" text-anchor="end" fill="#1a1a1a">2146</text>
<text x="142.2" y="742.3" font-size="6.6" fill="#1a1a1a">SQ.FT.</text>
<text x="14.6" y="751.2" font-size="6.6" fill="#1a1a1a">LOT :</text>
<text x="137.8" y="751.2" font-size="6.6" text-anchor="end" fill="#1a1a1a">5500</text>
<text x="142.2" y="751.2" font-size="6.6" fill="#1a1a1a">SQ.FT.</text>
<text x="14.6" y="761.2" font-size="6.6" fill="#1a1a1a">LOT COVERAGE :</text>
<text x="163.2" y="761.2" font-size="6.6" text-anchor="end" fill="#1a1a1a">39.0%</text>
<line x1="12" y1="764.8" x2="166" y2="764.8" stroke="#222" stroke-width="1.5"/>
<text x="14.3" y="773" font-size="6.6" fill="#1a1a1a">SIDE FOR ELECTRICAL =</text>
<text x="159.9" y="773" font-size="6.6" text-anchor="end" fill="#1a1a1a">RIGHT</text>
<line x1="12" y1="776.1" x2="166" y2="776.1" stroke="#222" stroke-width="0.8"/>
<text x="14.3" y="783.5" font-size="6.6" fill="#1a1a1a">LINEAL FEET OF FENCE:</text>
<text x="161.4" y="783.5" font-size="6.6" text-anchor="end" fill="#1a1a1a">221 L.F.</text>
<line x1="12" y1="787.3" x2="166" y2="787.3" stroke="#222" stroke-width="0.8"/>
<text x="14.3" y="794.9" font-size="6.6" fill="#1a1a1a">TOTAL HARDSCAPE:</text>
<text x="163.2" y="794.9" font-size="6.6" text-anchor="end" fill="#1a1a1a">SQ.FT.</text>
<line x1="12" y1="797.9" x2="166" y2="797.9" stroke="#222" stroke-width="0.8"/>
<text x="14.3" y="805.8" font-size="6.6" fill="#1a1a1a">FINISH FLOOR ELEVATION:</text>
<text x="159.9" y="805.8" font-size="6.6" text-anchor="end" fill="#1a1a1a">24.47</text>
<line x1="12" y1="809.3" x2="166" y2="809.3" stroke="#222" stroke-width="0.8"/>
<text x="14.3" y="816.7" font-size="6.6" fill="#1a1a1a">FINISH PAD ELEVATION:</text>
<text x="159.9" y="816.7" font-size="6.6" text-anchor="end" fill="#1a1a1a">23.8</text>
<line x1="165.5" y1="610.8" x2="165.5" y2="820" stroke="#222" stroke-width="0.9"/>
<line x1="166" y1="711.2" x2="618" y2="711.2" stroke="#222" stroke-width="1.0"/>
<line x1="318.2" y1="711.2" x2="318.2" y2="820" stroke="#222" stroke-width="0.9"/>
<line x1="333.8" y1="711.2" x2="333.8" y2="820" stroke="#222" stroke-width="0.9"/>
<line x1="491.9" y1="711.2" x2="491.9" y2="820" stroke="#222" stroke-width="0.9"/>
<text x="171.4" y="722.8" font-size="8.4" textLength="88.3" lengthAdjust="spacingAndGlyphs" fill="#1a1a1a">BUILDING SETBACKS:</text>
<text x="171.4" y="731.9" font-size="8.4" textLength="68.9" lengthAdjust="spacingAndGlyphs" fill="#1a1a1a">(SFD 50 ZONING)</text>
<text x="171.4" y="742.7" font-size="8.4" fill="#1a1a1a">FRONT LOAD GARAGE</text>
<text x="291" y="742.7" font-size="8.4" text-anchor="end" fill="#1a1a1a">= 20'</text>
<text x="171.4" y="752.7" font-size="8.4" fill="#1a1a1a">SIDE LOAD GARAGE</text>
<text x="291" y="752.7" font-size="8.4" text-anchor="end" fill="#1a1a1a">= 10'</text>
<text x="171.4" y="762.7" font-size="8.4" fill="#1a1a1a">LIVABLE</text>
<text x="291" y="762.7" font-size="8.4" text-anchor="end" fill="#1a1a1a">= 10'</text>
<text x="171.4" y="772" font-size="8.4" fill="#1a1a1a">PORCH</text>
<text x="291" y="772" font-size="8.4" text-anchor="end" fill="#1a1a1a">= 10'</text>
<text x="171.4" y="782.6" font-size="8.4" fill="#1a1a1a">SIDE</text>
<text x="291" y="782.6" font-size="8.4" text-anchor="end" fill="#1a1a1a">= 5' AND 5'</text>
<text x="171.4" y="792.9" font-size="8.4" fill="#1a1a1a">REAR</text>
<text x="291" y="792.9" font-size="8.4" text-anchor="end" fill="#1a1a1a">= 15'</text>
<text x="171.4" y="813.1" font-size="6.6" textLength="106.2" lengthAdjust="spacingAndGlyphs" fill="#1a1a1a">MAXIMUM LOT COVERAGE = 60%</text>
<text x="332.2" y="770.5" font-size="16.2" text-anchor="middle" textLength="67" lengthAdjust="spacingAndGlyphs" transform="rotate(-90 332.2 770.5)" fill="#1a1a1a">LEGEND</text>
<text x="370.1" y="719.4" font-size="6.75" fill="#1a1a1a">PROPERTY LINE</text>
<text x="370.1" y="729" font-size="6.75" fill="#1a1a1a">RIGHT-OF-WAY</text>
<text x="370.1" y="738" font-size="6.75" fill="#1a1a1a">SIGHT VISIBILITY TRIANGLE</text>
<text x="370.1" y="747.7" font-size="6.75" textLength="104.7" lengthAdjust="spacingAndGlyphs" fill="#1a1a1a">VEHICULAR NON-ACCESS EASE.</text>
<text x="370.1" y="757" font-size="6.75" fill="#1a1a1a">PUBLIC UTILITY EASEMENT</text>
<text x="370.1" y="766.6" font-size="6.75" fill="#1a1a1a">BUILDING SETBACK LINE</text>
<text x="370.1" y="776.6" font-size="6.75" fill="#1a1a1a">FIRE HYDRANT</text>
<text x="370.1" y="786.2" font-size="6.75" fill="#1a1a1a">ELECTRIC SERVICE LOCATION</text>
<text x="370.1" y="796.7" font-size="6.75" fill="#1a1a1a">ELEC. TRANSFORMER LOCATION</text>
<text x="370.1" y="806.3" font-size="6.75" fill="#1a1a1a">STREET LIGHT LOCATION</text>
<text x="370.1" y="815.6" font-size="6.75" fill="#1a1a1a">JUNCTION BOX</text>
<text x="337.7" y="729" font-size="6.6" fill="#1a1a1a">R/W</text>
<text x="337.7" y="738" font-size="6.6" fill="#1a1a1a">S.V.T.</text>
<text x="337.7" y="747.7" font-size="6.6" fill="#1a1a1a">V.N.A.E.</text>
<text x="337.7" y="757" font-size="6.6" fill="#1a1a1a">P.U.E.</text>
<text x="337.7" y="766.6" font-size="6.6" fill="#1a1a1a">B.S.L.</text>
<line x1="336.5" y1="717.2" x2="366" y2="717.2" stroke="#555" stroke-width="0.8" stroke-dasharray="9,2,3,2"/>
<circle cx="355.5" cy="775" r="3.3" stroke="#111" stroke-width="0.9" fill="none"/>
<path d="M355.5,775 L355.5,771.7 A3.3,3.3 0 0 0 352.2,775 Z M355.5,775 L355.5,778.3 A3.3,3.3 0 0 0 358.8,775 Z" fill="#111"/>
<circle cx="343.8" cy="785.1" r="4.1" stroke="#222" stroke-width="0.8" fill="none"/>
<text x="343.8" y="787.8" font-size="7.4" text-anchor="middle" font-weight="bold" fill="#1a1a1a">E</text>
<rect x="352" y="791.7" width="7.6" height="7.3" fill="#111"/>
<polyline points="353.3,798.4 355.8,792.6 358.3,798.4" fill="none" stroke="#fff" stroke-width="0.6"/>
<line x1="336.2" y1="805.4" x2="346" y2="805.4" stroke="#222" stroke-width="0.8"/>
<rect x="346" y="803.4" width="11.7" height="4.2" rx="2" fill="none" stroke="#222" stroke-width="0.8"/>
<rect x="343.2" y="811.5" width="6.6" height="5.2" stroke="#222" stroke-width="0.8" fill="none"/>
<rect x="523.7" y="723.7" width="27.5" height="4.3" fill="#232a3a"/>
<rect x="531.8" y="723.7" width="4.7" height="26.5" fill="#232a3a"/>
<rect x="540.6" y="723.7" width="4.7" height="26.5" fill="#232a3a"/>
<polygon points="545.3,723.7 551,723.7 557,742 563,723.7 567.5,723.7 559.5,750.2 554.5,750.2" fill="#232a3a"/>
<polygon points="551.3,723.7 560,723.7 555.7,732.5" fill="#8c8c8c"/>
<path d="M562.7,723.7 L577,723.7 A13.5,13.25 0 0 1 577,750.2 L562.7,750.2 Z M567.4,728 L576.5,728 A9,9 0 0 1 576.5,746 L567.4,746 Z" fill="#232a3a" fill-rule="evenodd"/>
<text x="500.1" y="765.2" font-size="7.2" font-weight="bold" textLength="112.4" lengthAdjust="spacing" fill="#858585">DESIGN SERVICES</text>
<text x="501.2" y="780.3" font-size="8.3" textLength="101.8" lengthAdjust="spacingAndGlyphs" fill="#1a1a1a">6635 W. Happy Valley Road</text>
<text x="501.2" y="790" font-size="8.3" fill="#1a1a1a">Suite A-104-438</text>
<text x="501.2" y="799.4" font-size="8.3" fill="#1a1a1a">Glendale, AZ 85310</text>
<text x="501.2" y="809.5" font-size="8.3" fill="#1a1a1a">(602) 882-5419</text>
<text x="575.4" y="827.6" font-size="4.3" textLength="59" lengthAdjust="spacingAndGlyphs" fill="#111" stroke="#111" stroke-width="0.15">12/18/2025 12:12:52 PM, M</text>
<text x="5.5" y="801.6" font-size="23.8" fill="#151515" stroke="#fff" stroke-width="2" paint-order="stroke" font-family="Liberation Serif">2026 ARMLS</text>
</svg>
</body></html>
